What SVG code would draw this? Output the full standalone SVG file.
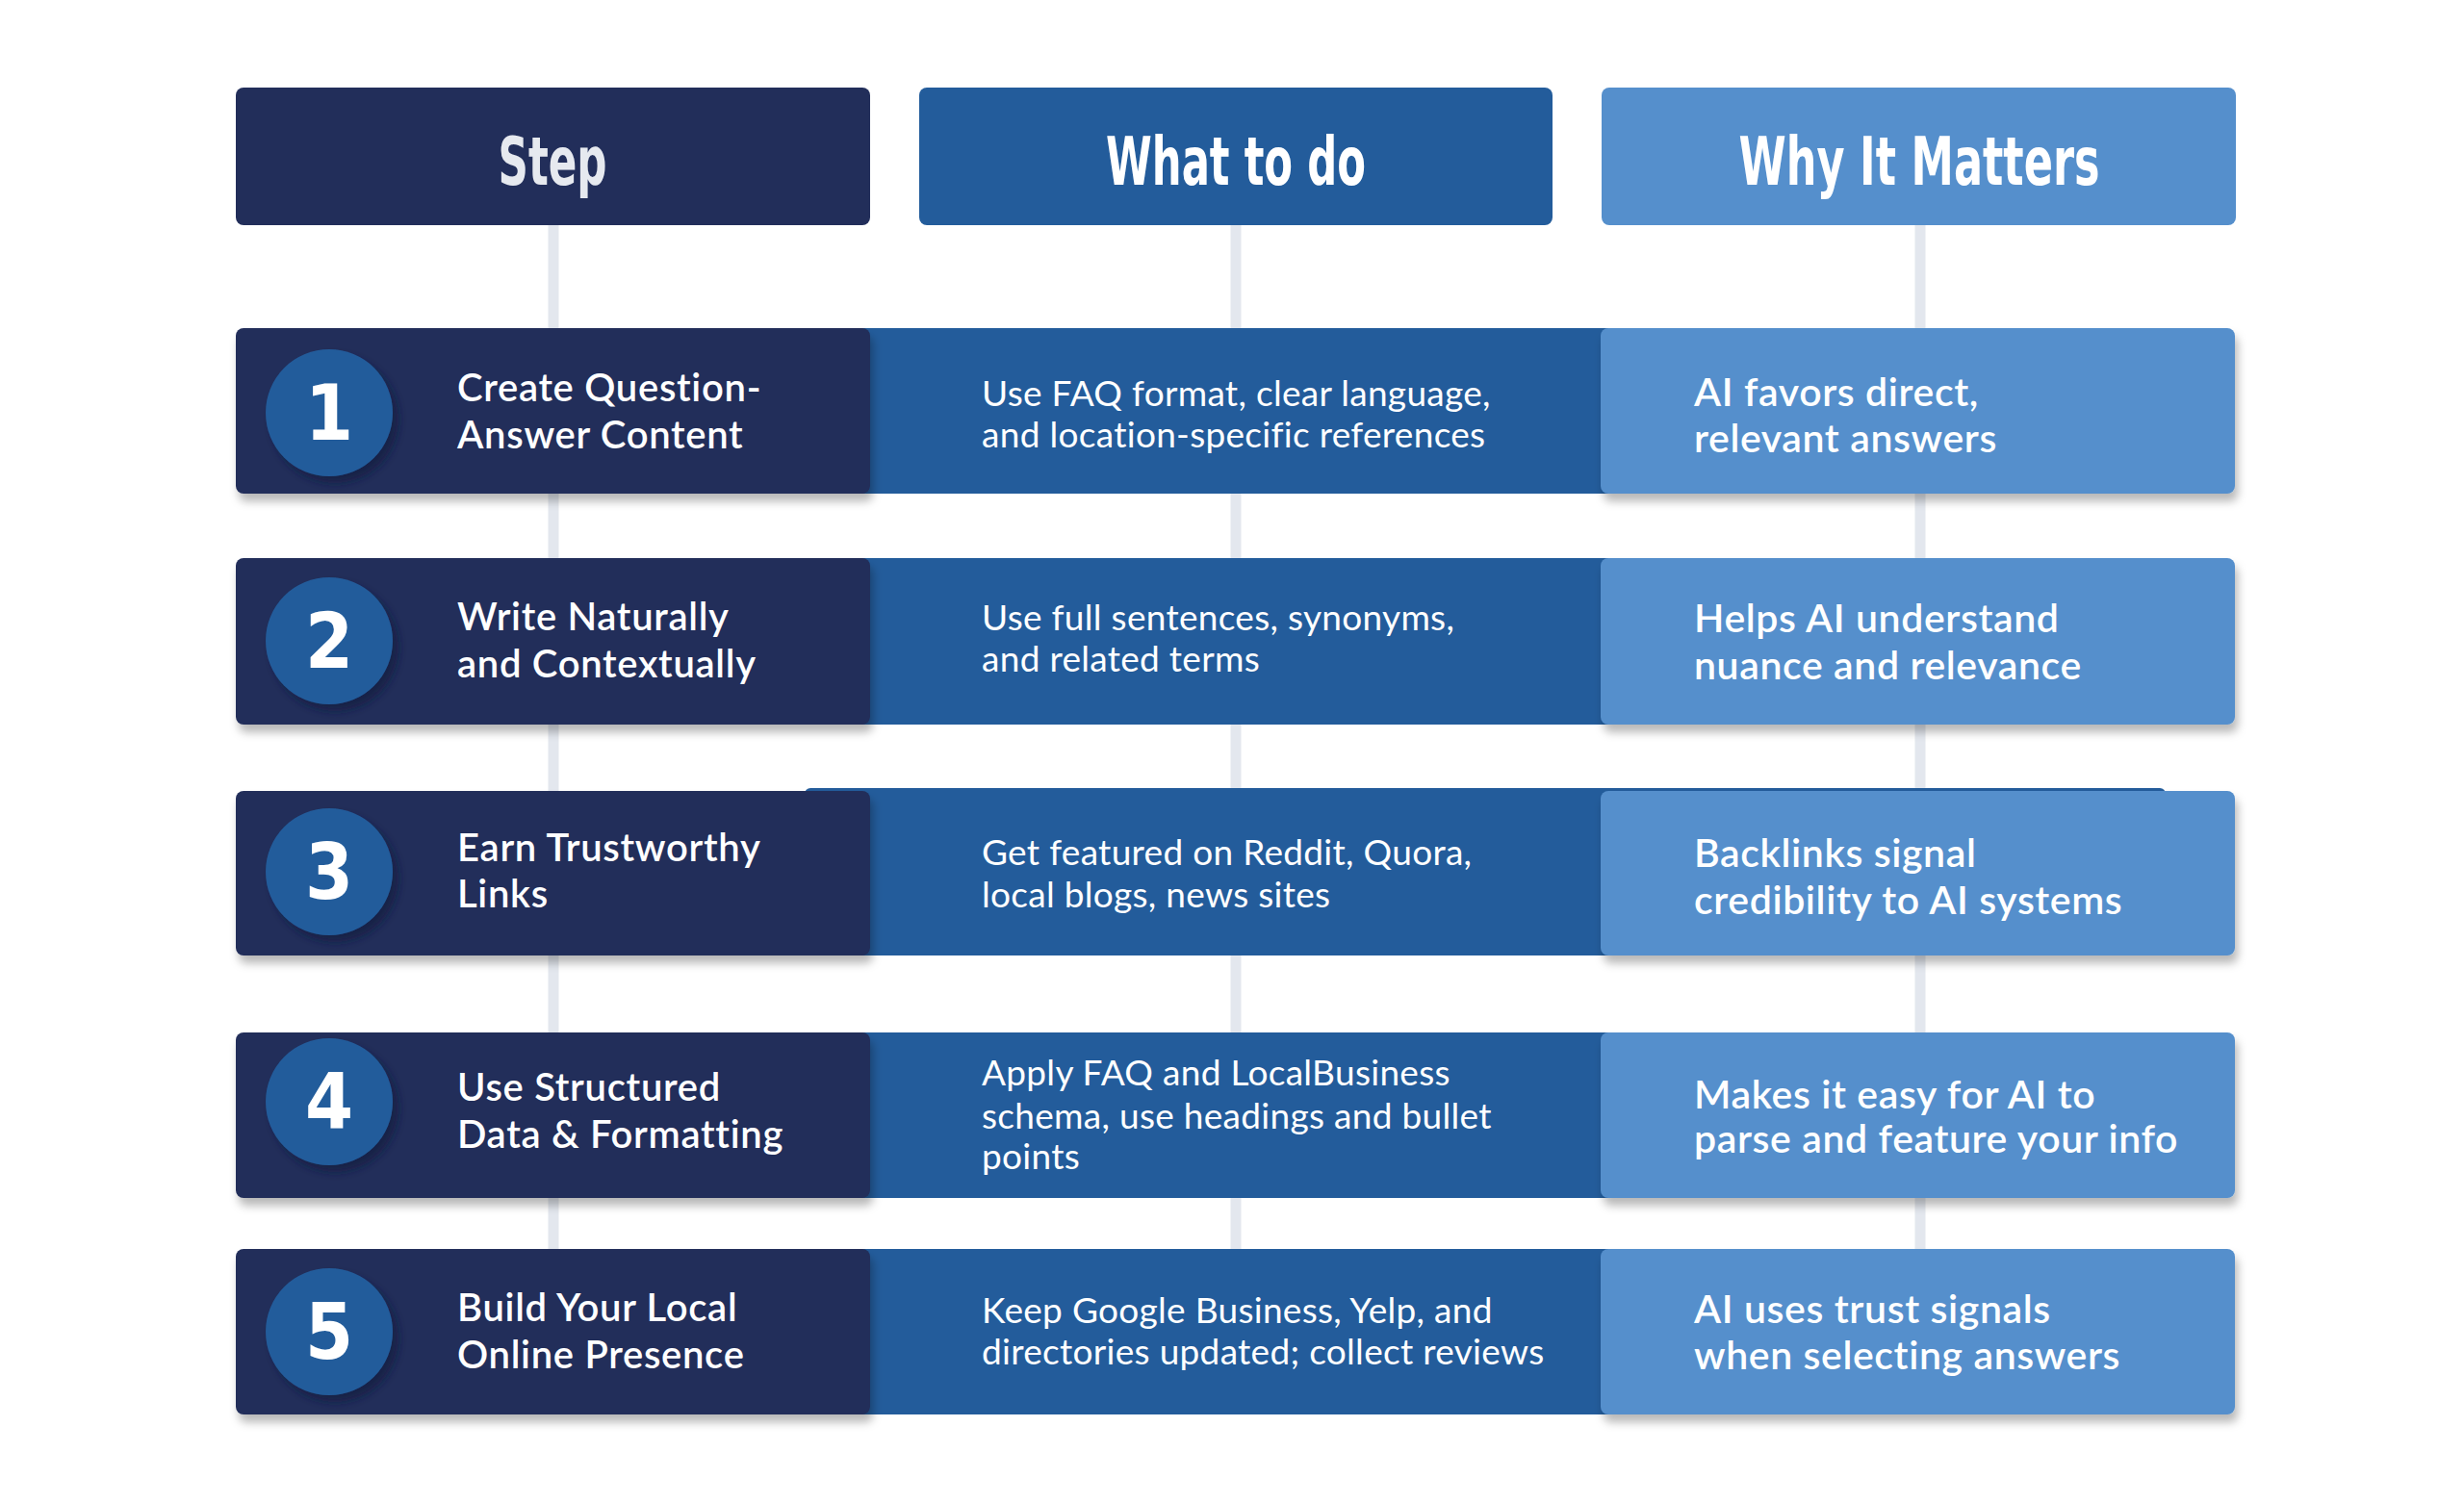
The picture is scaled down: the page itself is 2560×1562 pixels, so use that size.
<svg xmlns="http://www.w3.org/2000/svg" width="2560" height="1562" viewBox="0 0 2560 1562">
<defs>
<style>
.bg{fill:#ffffff}
.conn{stroke:#e3e7ee;stroke-width:11;fill:none}
.hdr-step{fill:#222e5a}
.hdr-what{fill:#235c9b}
.hdr-why{fill:#558fcc}
.htext{font-family:"Liberation Sans Narrow","DejaVu Sans Condensed",sans-serif;font-weight:700;font-size:70px;text-anchor:middle;fill:#ffffff}
.step{fill:#222e5a}
.mid{fill:#235c9b}
.why{fill:#558fcc}
.circ{fill:#235c9b}
.num{font-family:"Liberation Sans Narrow","DejaVu Sans Condensed",sans-serif;font-weight:700;font-size:80px;text-anchor:middle;fill:#ffffff}
.title{font-family:Lato,"Noto Sans",sans-serif;font-weight:600;font-size:40px;letter-spacing:0.7px;fill:#ffffff}
.what{font-family:Lato,"Noto Sans",sans-serif;font-weight:400;font-size:37px;letter-spacing:0.3px;fill:#ffffff}
.whyt{font-family:Lato,"Noto Sans",sans-serif;font-weight:600;font-size:41px;letter-spacing:0.6px;fill:#ffffff}
</style>
<filter id="sh" x="-5%" y="-20%" width="110%" height="150%">
<feDropShadow dx="3" dy="8" stdDeviation="5" flood-color="#000000" flood-opacity="0.28"/>
</filter>
<filter id="csh" x="-30%" y="-30%" width="170%" height="170%">
<feDropShadow dx="6" dy="7" stdDeviation="4" flood-color="#141c3f" flood-opacity="0.7"/>
</filter>
</defs>
<rect class="bg" x="0" y="0" width="2560" height="1562"/>

<g id="connectors">
<line class="conn" x1="575" y1="233" x2="575" y2="1300"/>
<line class="conn" x1="1284" y1="233" x2="1284" y2="1300"/>
<line class="conn" x1="1995" y1="233" x2="1995" y2="1300"/>
</g>

<g id="header-step">
<rect class="hdr-step" x="245" y="91" width="659" height="143" rx="8"/>
<text class="htext" x="574" y="192" style="fill:#e6e9ef" textLength="113" lengthAdjust="spacingAndGlyphs">Step</text>
</g>
<g id="header-what">
<rect class="hdr-what" x="955" y="91" width="658" height="143" rx="8"/>
<text class="htext" x="1284" y="192" textLength="270" lengthAdjust="spacingAndGlyphs">What to do</text>
</g>
<g id="header-why">
<rect class="hdr-why" x="1664" y="91" width="659" height="143" rx="8"/>
<text class="htext" x="1994" y="192" textLength="375" lengthAdjust="spacingAndGlyphs">Why It Matters</text>
</g>

<g id="row1">
<rect class="mid" x="890" y="341" width="790" height="172"/>
<rect class="step" x="245" y="341" width="659" height="172" rx="8" filter="url(#sh)"/>
<circle class="circ" cx="342" cy="429" r="66" filter="url(#csh)"/>
<text class="num" x="342" y="457">1</text>
<text class="title" x="475" y="417">Create Question-</text>
<text class="title" x="475" y="466">Answer Content</text>
<text class="what" x="1020" y="422">Use FAQ format, clear language,</text>
<text class="what" x="1020" y="465">and location-specific references</text>
<rect class="why" x="1663" y="341" width="659" height="172" rx="8" filter="url(#sh)"/>
<text class="whyt" x="1760" y="422">AI favors direct,</text>
<text class="whyt" x="1760" y="470">relevant answers</text>
</g>

<g id="row2">
<rect class="mid" x="890" y="580" width="790" height="173"/>
<rect class="step" x="245" y="580" width="659" height="173" rx="8" filter="url(#sh)"/>
<circle class="circ" cx="342" cy="666" r="66" filter="url(#csh)"/>
<text class="num" x="342" y="694">2</text>
<text class="title" x="475" y="655">Write Naturally</text>
<text class="title" x="475" y="704">and Contextually</text>
<text class="what" x="1020" y="655">Use full sentences, synonyms,</text>
<text class="what" x="1020" y="698">and related terms</text>
<rect class="why" x="1663" y="580" width="659" height="173" rx="8" filter="url(#sh)"/>
<text class="whyt" x="1760" y="657">Helps AI understand</text>
<text class="whyt" x="1760" y="706">nuance and relevance</text>
</g>

<g id="row3">
<rect class="mid" x="836" y="819" width="1414" height="174" rx="6"/>
<rect class="step" x="245" y="822" width="659" height="171" rx="8" filter="url(#sh)"/>
<circle class="circ" cx="342" cy="906" r="66" filter="url(#csh)"/>
<text class="num" x="342" y="934">3</text>
<text class="title" x="475" y="895">Earn Trustworthy</text>
<text class="title" x="475" y="943">Links</text>
<text class="what" x="1020" y="899">Get featured on Reddit, Quora,</text>
<text class="what" x="1020" y="943">local blogs, news sites</text>
<rect class="why" x="1663" y="822" width="659" height="171" rx="8" filter="url(#sh)"/>
<text class="whyt" x="1760" y="901">Backlinks signal</text>
<text class="whyt" x="1760" y="950">credibility to AI systems</text>
</g>

<g id="row4">
<rect class="mid" x="890" y="1073" width="790" height="172"/>
<rect class="step" x="245" y="1073" width="659" height="172" rx="8" filter="url(#sh)"/>
<circle class="circ" cx="342" cy="1145" r="66" filter="url(#csh)"/>
<text class="num" x="342" y="1173">4</text>
<text class="title" x="475" y="1144">Use Structured</text>
<text class="title" x="475" y="1193">Data &amp; Formatting</text>
<text class="what" x="1020" y="1128">Apply FAQ and LocalBusiness</text>
<text class="what" x="1020" y="1173">schema, use headings and bullet</text>
<text class="what" x="1020" y="1215">points</text>
<rect class="why" x="1663" y="1073" width="659" height="172" rx="8" filter="url(#sh)"/>
<text class="whyt" x="1760" y="1152">Makes it easy for AI to</text>
<text class="whyt" x="1760" y="1198">parse and feature your info</text>
</g>

<g id="row5">
<rect class="mid" x="890" y="1298" width="790" height="172"/>
<rect class="step" x="245" y="1298" width="659" height="172" rx="8" filter="url(#sh)"/>
<circle class="circ" cx="342" cy="1384" r="66" filter="url(#csh)"/>
<text class="num" x="342" y="1412">5</text>
<text class="title" x="475" y="1373">Build Your Local</text>
<text class="title" x="475" y="1422">Online Presence</text>
<text class="what" x="1020" y="1375">Keep Google Business, Yelp, and</text>
<text class="what" x="1020" y="1418">directories updated; collect reviews</text>
<rect class="why" x="1663" y="1298" width="659" height="172" rx="8" filter="url(#sh)"/>
<text class="whyt" x="1760" y="1375">AI uses trust signals</text>
<text class="whyt" x="1760" y="1423">when selecting answers</text>
</g>
</svg>
